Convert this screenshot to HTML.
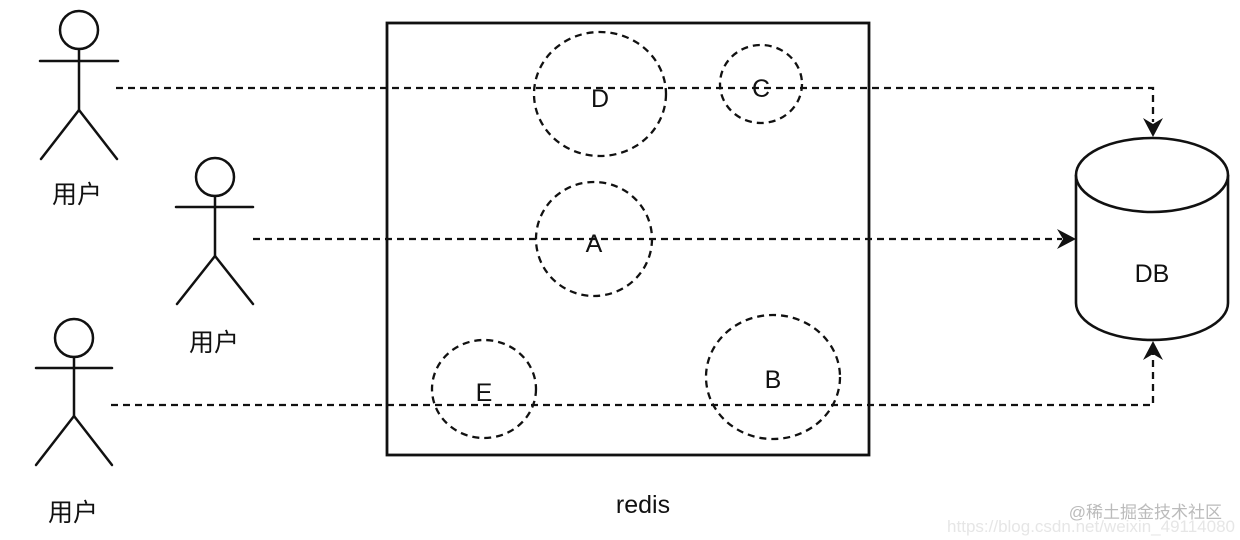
<!DOCTYPE html>
<html><head><meta charset="utf-8"><style>
html,body{margin:0;padding:0;background:#fff;width:1240px;height:540px;overflow:hidden}
svg text{font-family:"Liberation Sans","Noto Sans CJK SC",sans-serif;fill:#111}
</style></head><body>
<svg width="1240" height="540" viewBox="0 0 1240 540" xmlns="http://www.w3.org/2000/svg">
<g stroke="#111" stroke-width="2.5" fill="none" stroke-linecap="round">
<circle cx="79" cy="30" r="19"/>
<line x1="40" y1="61" x2="118" y2="61"/><line x1="79" y1="49" x2="79" y2="110"/>
<polyline points="41,159 79,110 117,159"/>
<circle cx="215" cy="177" r="19"/>
<line x1="176" y1="207" x2="253" y2="207"/><line x1="215" y1="196" x2="215" y2="256"/>
<polyline points="177,304 215,256 253,304"/>
<circle cx="74" cy="338" r="19"/>
<line x1="36" y1="368" x2="112" y2="368"/><line x1="74" y1="357" x2="74" y2="416"/>
<polyline points="36,465 74,416 112,465"/>
</g>
<rect x="387" y="23" width="482" height="432" fill="none" stroke="#111" stroke-width="2.8"/>
<g stroke="#111" stroke-width="2.3" fill="none" stroke-dasharray="7,5">
<ellipse cx="600" cy="94" rx="66" ry="62"/>
<ellipse cx="761" cy="84" rx="41" ry="39"/>
<ellipse cx="594" cy="239" rx="58" ry="57"/>
<ellipse cx="484" cy="389" rx="52" ry="49"/>
<ellipse cx="773" cy="377" rx="67" ry="62"/>
<polyline points="116,88 1153,88 1153,122"/>
<polyline points="253,239 1062,239"/>
<polyline points="111,405 1153,405 1153,352"/>
</g>
<g fill="#111">
<polygon points="1143,118 1153,137 1163,118 1153,124"/>
<polygon points="1057,229 1076,239 1057,249 1063,239"/>
<polygon points="1143,360 1153,341 1163,360 1153,354"/>
</g>
<g stroke="#111" stroke-width="2.6" fill="#fff">
<path d="M1076,175 L1076,303 A76,37 0 0 0 1228,303 L1228,175"/>
<ellipse cx="1152" cy="175" rx="76" ry="37"/>
</g>
<g font-size="25" text-anchor="middle">
<text x="600" y="107">D</text>
<text x="761" y="97">C</text>
<text x="594" y="252">A</text>
<text x="484" y="401">E</text>
<text x="773" y="388">B</text>
<text x="1152" y="282">DB</text>
<text x="643" y="513">redis</text>
</g>
<g font-size="25" text-anchor="middle">
<text x="77" y="203">用户</text>
<text x="214" y="351">用户</text>
<text x="73" y="521">用户</text>
</g>
<text x="1222" y="518" font-size="17" text-anchor="end" style="fill:#bbb">@稀土掘金技术社区</text>
<text x="1235" y="532" font-size="17" text-anchor="end" style="fill:#e6e6e6">https://blog.csdn.net/weixin_49114080</text>
</svg>
</body></html>
